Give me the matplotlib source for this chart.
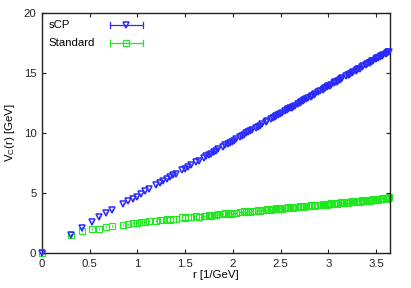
import matplotlib
matplotlib.use("Agg")
import matplotlib.pyplot as plt
from matplotlib.lines import Line2D

plt.rcParams['font.family'] = ['Liberation Sans', 'DejaVu Sans']
plt.rcParams['mathtext.fontset'] = 'custom'
plt.rcParams['mathtext.rm'] = 'Liberation Sans'
plt.rcParams['mathtext.it'] = 'Liberation Sans'

r_vals = [0.0, 0.300, 0.424, 0.520, 0.600, 0.671, 0.735, 0.849, 0.900, 0.949,
          0.995, 1.039, 1.082, 1.122, 1.200, 1.237, 1.273, 1.308, 1.342, 1.375,
          1.407, 1.470, 1.500, 1.530, 1.559, 1.616, 1.643, 1.697, 1.723, 1.749,
          1.775, 1.800, 1.825, 1.849, 1.897, 1.921, 1.944, 1.967, 1.990, 2.012,
          2.035, 2.078, 2.100, 2.121, 2.142, 2.163, 2.184, 2.205, 2.245, 2.265,
          2.285, 2.304, 2.343, 2.362, 2.400, 2.419, 2.437, 2.456, 2.474, 2.492,
          2.510, 2.546, 2.563, 2.581, 2.598, 2.615, 2.632, 2.650, 2.683, 2.700,
          2.717, 2.733, 2.750, 2.766, 2.782, 2.814, 2.830, 2.846, 2.862, 2.893,
          2.909, 2.939, 2.955, 2.970, 2.985, 3.000, 3.015, 3.030, 3.059, 3.074,
          3.089, 3.103, 3.118, 3.132, 3.146, 3.189, 3.203, 3.217, 3.231, 3.245,
          3.259, 3.286, 3.300, 3.314, 3.327, 3.354, 3.367, 3.394, 3.407, 3.421,
          3.434, 3.447, 3.460, 3.473, 3.499, 3.511, 3.524, 3.537, 3.550, 3.562,
          3.575, 3.600, 3.612, 3.625, 3.637]

v_scp = [0.0, 1.50, 2.10, 2.60, 3.00, 3.35, 3.60, 4.10, 4.30, 4.50,
         4.70, 4.94, 5.13, 5.32, 5.67, 5.84, 6.00, 6.16, 6.32, 6.47,
         6.62, 6.90, 7.04, 7.18, 7.31, 7.57, 7.69, 7.94, 8.06, 8.18,
         8.29, 8.41, 8.52, 8.63, 8.85, 8.96, 9.06, 9.17, 9.27, 9.37,
         9.48, 9.68, 9.78, 9.87, 9.97, 10.06, 10.16, 10.25, 10.44, 10.53,
         10.62, 10.71, 10.88, 10.97, 11.14, 11.23, 11.31, 11.40, 11.48, 11.56,
         11.65, 11.81, 11.89, 11.97, 12.05, 12.12, 12.20, 12.28, 12.43, 12.51,
         12.59, 12.66, 12.74, 12.81, 12.89, 13.03, 13.10, 13.18, 13.25, 13.39,
         13.47, 13.60, 13.67, 13.74, 13.81, 13.88, 13.95, 14.02, 14.15, 14.22,
         14.29, 14.35, 14.42, 14.48, 14.55, 14.74, 14.81, 14.87, 14.93, 15.00,
         15.06, 15.18, 15.25, 15.31, 15.37, 15.49, 15.55, 15.68, 15.74, 15.80,
         15.86, 15.92, 15.98, 16.04, 16.16, 16.21, 16.27, 16.33, 16.39, 16.44,
         16.50, 16.62, 16.67, 16.73, 16.78]

v_std = [0.0, 1.50, 1.80, 1.98, 2.00, 2.16, 2.25, 2.37, 2.42, 2.47,
         2.52, 2.60, 2.62, 2.65, 2.66, 2.75, 2.72, 2.81, 2.78, 2.86,
         2.85, 2.96, 2.92, 3.00, 2.97, 3.06, 3.02, 3.12, 3.09, 3.17,
         3.12, 3.20, 3.17, 3.24, 3.22, 3.30, 3.25, 3.33, 3.28, 3.36,
         3.32, 3.42, 3.38, 3.46, 3.40, 3.49, 3.44, 3.52, 3.48, 3.56,
         3.51, 3.59, 3.56, 3.64, 3.60, 3.69, 3.63, 3.71, 3.66, 3.74,
         3.68, 3.78, 3.72, 3.81, 3.76, 3.83, 3.78, 3.86, 3.81, 3.90,
         3.84, 3.92, 3.86, 3.94, 3.89, 3.98, 3.92, 4.01, 3.95, 4.04,
         3.98, 4.08, 4.02, 4.10, 4.04, 4.12, 4.06, 4.14, 4.09, 4.18,
         4.12, 4.20, 4.14, 4.22, 4.16, 4.26, 4.20, 4.28, 4.22, 4.30,
         4.24, 4.33, 4.27, 4.35, 4.29, 4.38, 4.32, 4.41, 4.35, 4.43,
         4.37, 4.45, 4.39, 4.47, 4.43, 4.50, 4.44, 4.52, 4.46, 4.55,
         4.49, 4.58, 4.52, 4.62, 4.70]

err_scp = 0.05
err_std = 0.08

blue = '#2a2aff'
green = '#1fe81f'
fs = 8.2

fig = plt.figure(figsize=(4.11, 2.88), dpi=100)
ax = fig.add_axes([0.102, 0.1215, 0.8467, 0.8333])

ax.errorbar(r_vals, v_scp, yerr=err_scp, fmt='v', color=blue, mfc='none', mec=blue,
            ms=4.8, mew=1.1, elinewidth=0.8, capsize=0, clip_on=False, zorder=3)
ax.errorbar(r_vals, v_std, yerr=err_std, fmt='s', color=green, mfc='none', mec=green,
            ms=4.8, mew=0.8, elinewidth=0.8, capsize=0, clip_on=False, zorder=2)

ax.set_xlim(0, 3.645)
ax.set_ylim(0, 20)
ax.set_xticks([0, 0.5, 1, 1.5, 2, 2.5, 3, 3.5])
ax.set_xticklabels(['0', '0.5', '1', '1.5', '2', '2.5', '3', '3.5'])
ax.set_yticks([0, 5, 10, 15, 20])
ax.tick_params(direction='in', length=3, width=0.8, top=True, right=True,
               labelsize=fs, pad=4, colors='#222222')
for s in ax.spines.values():
    s.set_linewidth(1.0)
    s.set_color('#222222')

ax.set_xlabel('r [1/GeV]', fontsize=fs, labelpad=1)
ax.set_ylabel(r'V$_\mathrm{C}$(r) [GeV]', fontsize=fs, labelpad=5)

# gnuplot-style key: label on the left, sample on the right
entries = [('sCP', blue, 'v', 0.95, 1.1), ('Standard', green, 's', 0.875, 0.8)]
for label, col, mk, yy, mw in entries:
    ax.text(0.02, yy, label, transform=ax.transAxes, fontsize=fs,
            va='center', ha='left')
    ax.add_line(Line2D([0.195, 0.29], [yy, yy], transform=ax.transAxes,
                       color=col, lw=0.9))
    for xx in (0.195, 0.29):
        ax.add_line(Line2D([xx, xx], [yy - 0.012, yy + 0.012], transform=ax.transAxes,
                           color=col, lw=0.9))
    ax.add_line(Line2D([0.2425], [yy], transform=ax.transAxes, marker=mk,
                       ms=4.8, mfc='none', mec=col, mew=mw, color=col))

fig.savefig('out.png', dpi=100)
